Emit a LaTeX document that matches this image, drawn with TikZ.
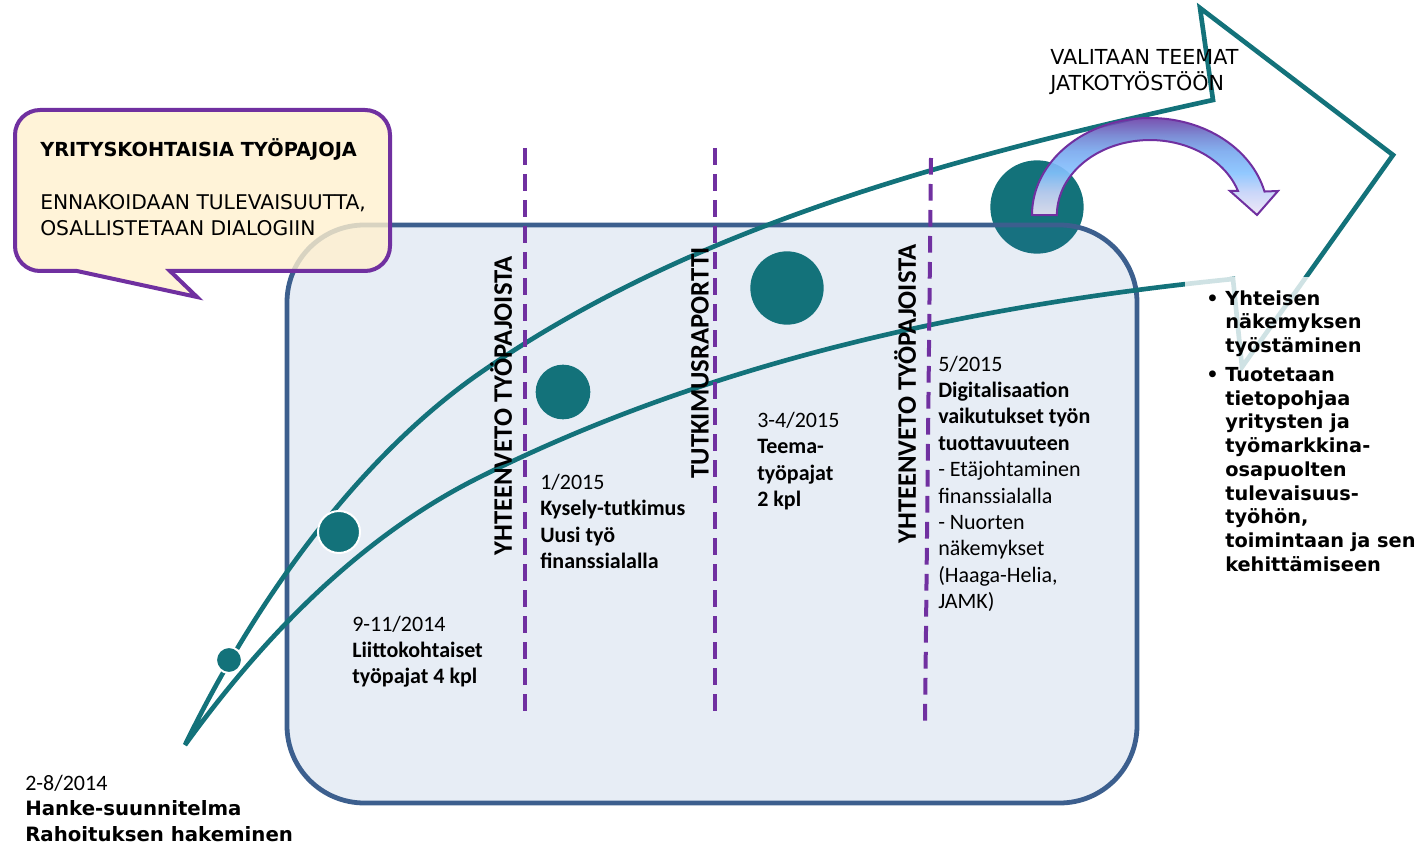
\documentclass[tikz,border=0pt]{standalone}
\usepackage{fontspec}
\setmainfont{Carlito}
\newfontfamily\verd{DejaVu Sans}
\usepackage{xcolor}
\usetikzlibrary{positioning}

\definecolor{arrteal}{HTML}{13727A}
\definecolor{boxblue}{HTML}{3C5F8E}
\definecolor{boxtint}{HTML}{3A6BB0}
\definecolor{phasepurple}{HTML}{7030A0}
\definecolor{bubblefill}{HTML}{FFF0CE}
\definecolor{turntop}{HTML}{6A40A8}
\definecolor{turnupper}{HTML}{6F80D0}
\definecolor{turnmid}{HTML}{78A8EE}
\definecolor{turnlight}{HTML}{85C2FF}
\definecolor{turnlow}{HTML}{C4D2F8}
\definecolor{turnbot}{HTML}{EEE6F6}

\pgfdeclareverticalshading{turnshade}{100bp}{color(0bp)=(turnbot); color(25bp)=(turnbot); color(37bp)=(turnlow);
  color(47bp)=(turnlight); color(58bp)=(turnmid); color(66bp)=(turnupper); color(75bp)=(turntop); color(100bp)=(turntop)}

\newcommand\listbul{\makebox[14.25pt][l]{\textbullet}}
\newcommand\listind{\hspace*{14.25pt}}

\begin{document}
\begin{tikzpicture}[x=0.75pt, y=-0.75pt,
    dot/.style={circle, fill=arrteal, inner sep=0pt},
    ringdot/.style={dot, draw=white, line width=1.5pt},
    phase/.style={draw=phasepurple, line width=3pt, dash pattern=on 12.5pt off 7pt},
    datelbl/.style={anchor=north west, inner sep=0pt, align=left, font=\fontsize{16.5}{19.8}\selectfont},
    vlbl/.style={rotate=90, inner sep=0pt, font=\fontsize{20}{24}\selectfont\bfseries},
    capslbl/.style={anchor=north west, inner sep=0pt, align=left, font=\verd\fontsize{15.2}{19.5}\selectfont}]

\useasboundingbox (0,0) rectangle (1422,845);

% Ball behind the frame
\node[dot, minimum size=70pt] (d5) at (1037,207) {};

% Frame
\draw[draw=boxblue, line width=3.6pt, fill=boxtint, fill opacity=0.12, rounded corners=58pt] (287,225) rectangle (1137,803);

% Big arrow
\draw[arrteal, line width=3.5pt] (185,745) .. controls (273,565) and (382,441) .. (480,373)
    .. controls (693,225) and (959,156) .. (1213,100)
    -- (1200,8) -- (1393,155) -- (1242,367) -- (1233,279)
    .. controls (974,305) and (712,361) .. (480,477)
    .. controls (361,536) and (263,637) .. (185,745) -- cycle;

% Phase lines
\coordinate (p1t) at (525,148); \coordinate (p1b) at (525,720);
\coordinate (p2t) at (715,148); \coordinate (p2b) at (715,720);
\coordinate (p3t) at (931,158); \coordinate (p3b) at (925,725);
\draw[phase] (p1t) -- (p1b);
\draw[phase] (p2t) -- (p2b);
\draw[phase] (p3t) -- (p3b);

% Balls
\node[ringdot, minimum size=19.5pt] (d1) at (229,660) {};
\node[ringdot, minimum size=31.5pt] (d2) at (339,532) {};
\node[dot, minimum size=41pt] (d3) at (563,392) {};
\node[dot, minimum size=55pt] (d4) at (787,288) {};

% Vertical labels
\node[vlbl] (sum1) at (501,406) {YHTEENVETO TYÖPAJOISTA};
\node[vlbl] (report) at (700,363) {TUTKIMUSRAPORTTI};
\node[vlbl] (sum2) at (905,394) {YHTEENVETO TYÖPAJOISTA};

% Phase texts
\node[datelbl] (start) at (25,775) {2-8/2014};
\node[capslbl, font=\verd\bfseries\fontsize{14.8}{20}\selectfont] (plan) at (25,800) {Hanke-suunnitelma\\Rahoituksen hakeminen};
\node[datelbl] (m1) at (352,615.5) {9-11/2014\\\textbf{Liittokohtaiset}\\\textbf{työpajat 4 kpl}};
\node[datelbl] (m2) at (540,474) {1/2015\\\textbf{Kysely-tutkimus}\\\textbf{Uusi työ}\\\textbf{finanssialalla}};
\node[datelbl] (m3) at (757,412) {3-4/2015\\\textbf{Teema-}\\\textbf{työpajat}\\\textbf{2 kpl}};
\node[datelbl] (m4) at (938,355.5) {5/2015\\\textbf{Digitalisaation}\\\textbf{vaikutukset työn}\\\textbf{tuottavuuteen}\\- Etäjohtaminen\\finanssialalla\\- Nuorten\\näkemykset\\(Haaga-Helia,\\JAMK)};

% Speech bubble
\draw[draw=phasepurple, line width=3pt, fill=bubblefill, fill opacity=0.8]
    (40,110) -- (365,110) arc[start angle=270, end angle=360, radius=25]
    -- (390,246) arc[start angle=0, end angle=90, radius=25]
    -- (170,271) -- (197,297) -- (77,271)
    -- (40,271) arc[start angle=90, end angle=180, radius=25]
    -- (15,135) arc[start angle=180, end angle=270, radius=25] -- cycle;
\node[capslbl] (bubtxt) at (40,138) {{\fontsize{14.5}{19.5}\selectfont\bfseries YRITYSKOHTAISIA TYÖPAJOJA}\\[20.5pt]ENNAKOIDAAN TULEVAISUUTTA,\\OSALLISTETAAN DIALOGIIN};

% Turn arrow
\node[capslbl, font=\verd\fontsize{15.5}{19.3}\selectfont] (choose) at (1050,49) {VALITAAN TEEMAT\\JATKOTYÖSTÖÖN};
\draw[draw=phasepurple, line width=1.5pt, shade, shading=turnshade, fill opacity=0.9]
    (1032,215) arc[start angle=180, end angle=346, x radius=118, y radius=97]
    -- (1278,191) -- (1257,215) -- (1230,191) -- (1238,191)
    arc[start angle=341.3, end angle=180, x radius=93, y radius=75] -- cycle;

% Goals
\node[anchor=north west, fill=white, fill opacity=0.8, text opacity=1, inner xsep=15.75pt, inner ysep=9.9pt, align=left,
    font=\verd\bfseries\fontsize{14.5}{17.8}\selectfont] (goals) at (1185,277)
    {\listbul Yhteisen\\\listind näkemyksen\\\listind työstäminen\\[3.75pt]
     \listbul Tuotetaan\\\listind tietopohjaa\\\listind yritysten ja\\\listind työmarkkina-\\\listind osapuolten\\\listind tulevaisuus-\\\listind työhön,\\\listind toimintaan ja sen\\\listind kehittämiseen};
\end{tikzpicture}
\end{document}
